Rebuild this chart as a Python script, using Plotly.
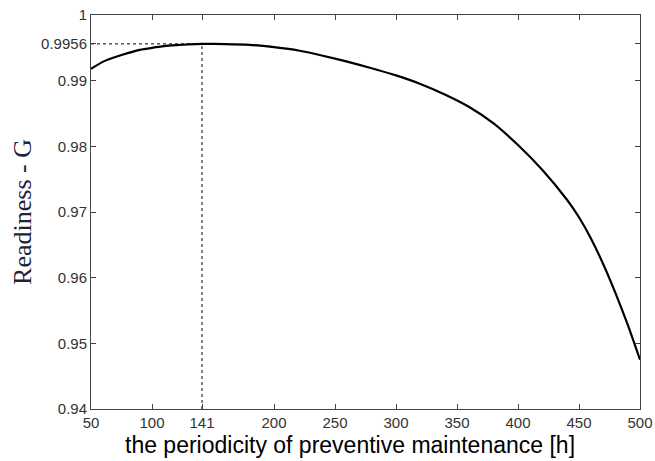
import plotly.graph_objects as go

# Data
period_h = [50, 60, 70, 80, 90, 100, 110, 120, 130, 141, 160, 180, 200, 220,
            240, 260, 280, 300, 320, 340, 360, 380, 400, 420, 440, 450, 460,
            470, 480, 490, 500]
readiness = [0.9918, 0.9929, 0.9936, 0.9942, 0.9947, 0.9950, 0.99525, 0.9954,
             0.99553, 0.9956, 0.99557, 0.99545, 0.9951, 0.9946, 0.9938, 0.9929,
             0.9919, 0.9908, 0.9895, 0.9879, 0.9860, 0.9835, 0.9802, 0.9764,
             0.9719, 0.9692, 0.9659, 0.9620, 0.9576, 0.9528, 0.9475]

opt_x = 141
opt_y = 0.9956

x_ticks = [50, 100, 141, 200, 250, 300, 350, 400, 450, 500]
x_ticktext = ["50", "100", "141", "200", "250", "300", "350", "400", "450", "500"]
y_ticks = [0.94, 0.95, 0.96, 0.97, 0.98, 0.99, 0.9956, 1.0]
y_ticktext = ["0.94", "0.95", "0.96", "0.97", "0.98", "0.99", "0.9956", "1"]
x_title = "the periodicity of preventive maintenance [h]"
y_title = "Readiness - G"

fig = go.Figure()

# Dashed guide lines at the optimum
fig.add_trace(go.Scatter(x=[50, opt_x], y=[opt_y, opt_y], mode="lines",
                         line=dict(color="black", width=1, dash="3px,3px"),
                         hoverinfo="skip", showlegend=False))
fig.add_trace(go.Scatter(x=[opt_x, opt_x], y=[0.94, opt_y], mode="lines",
                         line=dict(color="black", width=1, dash="3px,3px"),
                         hoverinfo="skip", showlegend=False))

# Readiness curve
fig.add_trace(go.Scatter(x=period_h, y=readiness, mode="lines",
                         line=dict(color="black", width=2.2, shape="spline", smoothing=0.5),
                         showlegend=False))

axis_common = dict(
    showgrid=False, zeroline=False, automargin=False,
    showline=True, linecolor="#444444", linewidth=1, mirror="ticks",
    ticks="inside", ticklen=5, tickcolor="#444444", tickwidth=1,
    tickfont=dict(family="Arial, Liberation Sans, sans-serif", size=15, color="#333333"),
)

fig.update_xaxes(range=[50, 500], tickmode="array", tickvals=x_ticks, ticktext=x_ticktext,
                 **axis_common)
fig.update_yaxes(range=[0.94, 1.0], tickmode="array", tickvals=y_ticks, ticktext=y_ticktext,
                 title=dict(text=y_title,
                            font=dict(family="Liberation Serif, Times New Roman, serif", size=26, color="#22223a"),
                            standoff=2),
                 **axis_common)

fig.add_annotation(text=x_title, xref="paper", yref="paper",
                   x=(350 - 91) / (640 - 91), y=-(445 - 409) / (409 - 15),
                   xanchor="center", yanchor="middle", showarrow=False,
                   font=dict(family="Arial, Liberation Sans, sans-serif", size=23, color="black"))

fig.update_layout(
    width=655, height=461,
    margin=dict(l=91, r=15, t=15, b=52),
    plot_bgcolor="white", paper_bgcolor="white",
)

fig.write_html("out.html")
